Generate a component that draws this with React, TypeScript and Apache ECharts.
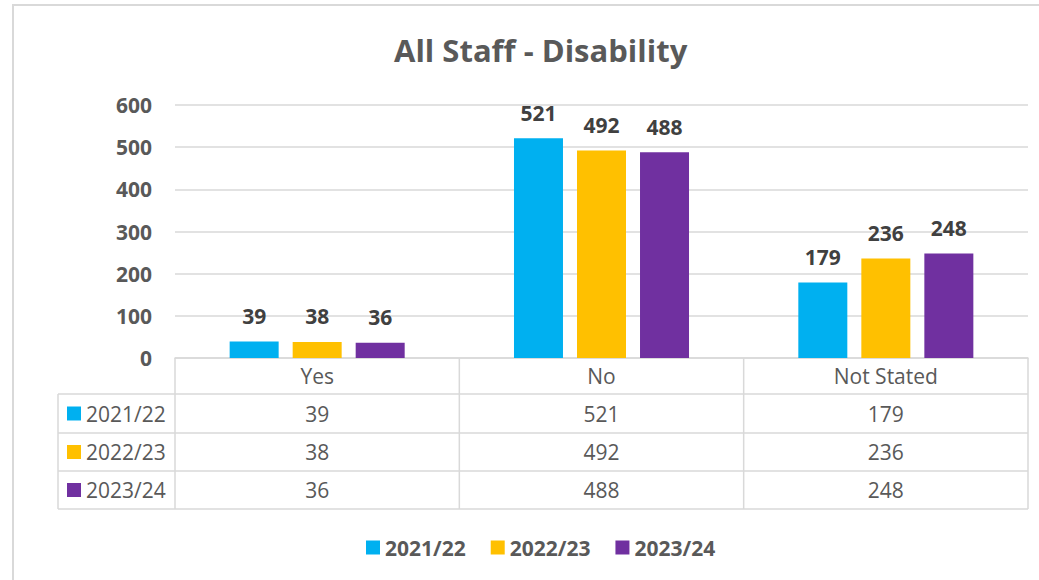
import React, { useEffect, useRef } from "react";
import * as echarts from "echarts";

const categories = ["Yes", "No", "Not Stated"];
const seriesNames = ["2021/22", "2022/23", "2023/24"];
const values2021 = [39, 521, 179];
const values2022 = [38, 492, 236];
const values2023 = [36, 488, 248];
const seriesValues = [values2021, values2022, values2023];
const colors = ["#00B0F0", "#FFC000", "#7030A0"];
const yMax = 600;
const yInterval = 100;

const FONT = "'Open Sans', sans-serif";
const TXT = "#595959";
const LINE = "#d9d9d9";

// layout
const W = 1039;
const H = 580;
const gL = 175;
const gR = 1028;
const gT = 105;
const gB = 358;
const tableLeft = 58;
const rowLines = [394, 433, 471, 509];

export default function App() {
  const ref = useRef<HTMLDivElement>(null);
  useEffect(() => {
    if (!ref.current) return;
    const chart = echarts.init(ref.current, null, { renderer: "svg" });
    const colW = (gR - gL) / categories.length;
    const graphic: any[] = [];
    // outer border
    graphic.push({
      type: "rect",
      shape: { x: 13, y: 5, width: 1200, height: 800 },
      style: { fill: "none", stroke: LINE, lineWidth: 2 },
      silent: true,
    });
    const ls = { stroke: LINE, lineWidth: 1.5 };
    rowLines.forEach((y) => {
      graphic.push({ type: "line", shape: { x1: tableLeft, y1: y, x2: gR, y2: y }, style: ls });
    });
    graphic.push({ type: "line", shape: { x1: tableLeft, y1: rowLines[0], x2: tableLeft, y2: rowLines[3] }, style: ls });
    for (let i = 0; i <= categories.length; i++) {
      const x = gL + i * colW;
      graphic.push({ type: "line", shape: { x1: x, y1: gB, x2: x, y2: rowLines[3] }, style: ls });
    }
    seriesNames.forEach((name, r) => {
      const cy = (rowLines[r] + rowLines[r + 1]) / 2;
      graphic.push({
        type: "rect",
        shape: { x: 67, y: cy - 7, width: 14, height: 14 },
        style: { fill: colors[r] },
      });
      graphic.push({
        type: "text",
        x: 86,
        y: cy,
        style: { text: name, fill: TXT, font: `21px ${FONT}`, textVerticalAlign: "middle", textAlign: "left" },
      });
      seriesValues[r].forEach((v, c) => {
        graphic.push({
          type: "text",
          x: gL + (c + 0.5) * colW,
          y: cy,
          style: { text: String(v), fill: TXT, font: `21px ${FONT}`, textVerticalAlign: "middle", textAlign: "center" },
        });
      });
    });

    chart.setOption({
      animation: false,
      title: {
        text: "All Staff - Disability",
        left: 389,
        top: 29,
        textStyle: { fontFamily: FONT, fontSize: 31, fontWeight: "bold", color: TXT },
      },
      grid: { left: gL, right: W - gR, top: gT, bottom: H - gB, containLabel: false },
      legend: {
        left: 361,
        top: 532,
        icon: "rect",
        itemWidth: 14,
        itemHeight: 14,
        itemGap: 25,
        textStyle: { fontFamily: FONT, fontSize: 21, fontWeight: "bold", color: TXT },
        data: seriesNames,
      },
      xAxis: {
        type: "category",
        data: categories,
        axisLine: { show: true, lineStyle: { color: LINE, width: 1.5 } },
        axisTick: { show: false },
        axisLabel: { fontFamily: FONT, fontSize: 21, color: TXT, margin: 7 },
      },
      yAxis: {
        type: "value",
        min: 0,
        max: yMax,
        interval: yInterval,
        axisLine: { show: false },
        axisTick: { show: false },
        splitLine: { lineStyle: { color: LINE, width: 1.5 } },
        axisLabel: { fontFamily: FONT, fontSize: 21, fontWeight: "bold", color: TXT, margin: 23 },
      },
      series: seriesNames.map((name, i) => ({
        name,
        type: "bar",
        data: seriesValues[i],
        barWidth: 49,
        barGap: "28.6%",
        itemStyle: { color: colors[i] },
        label: {
          show: true,
          position: "top",
          distance: 15,
          fontFamily: FONT,
          fontSize: 21,
          fontWeight: "bold",
          color: "#404040",
        },
      })),
      graphic,
    });
    return () => chart.dispose();
  }, []);
  return (
    <div
      ref={ref}
      style={{ position: "absolute", left: 0, top: 0, width: W, height: H, background: "#fff" }}
    />
  );
}
